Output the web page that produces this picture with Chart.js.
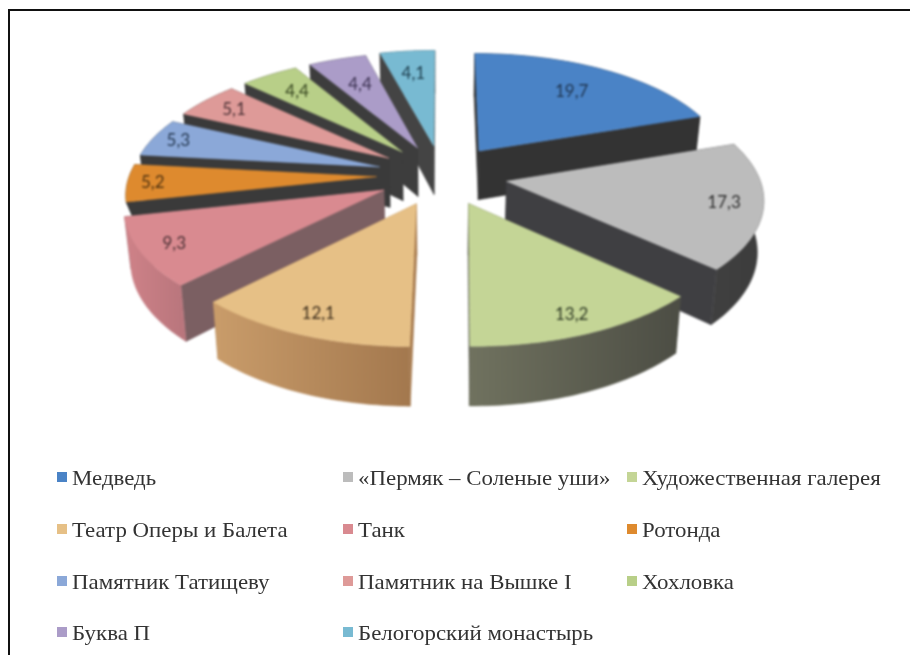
<!DOCTYPE html>
<html>
<head>
<meta charset="utf-8">
<script src="https://cdn.jsdelivr.net/npm/chart.js@4"></script>
<style>
  html, body { margin: 0; padding: 0; background: #fff; }
  #wrap { position: relative; width: 910px; height: 655px; overflow: hidden; }
  #frame { position: absolute; left: 8px; top: 9px; width: 920px; height: 670px; border: 2px solid #111; box-sizing: border-box; }
  #pie { position: absolute; left: 0; top: 0; filter: blur(0.9px); }
  .leg { position: absolute; font: 21px "Liberation Serif", serif; transform: scaleX(1.09); transform-origin: left center; color: #333; white-space: nowrap; line-height: 22px; filter: blur(0.5px); }
  .sq { position: absolute; width: 10px; height: 10px; filter: blur(0.7px); }
</style>
</head>
<body>
<div id="wrap">
  <canvas id="pie" width="910" height="655"></canvas>
  <div id="frame"></div>
</div>
<script>
// данные
var categories = ['Медведь', '«Пермяк – Соленые уши»', 'Художественная галерея', 'Театр Оперы и Балета', 'Танк', 'Ротонда',
  'Памятник Татищеву', 'Памятник на Вышке I', 'Хохловка', 'Буква П', 'Белогорский монастырь'];
var values = [19.7, 17.3, 13.2, 12.1, 9.3, 5.2, 5.3, 5.1, 4.4, 4.4, 4.1];
var valueLabels = ['19,7', '17,3', '13,2', '12,1', '9,3', '5,2', '5,3', '5,1', '4,4', '4,4', '4,1'];

// цвета
var topColors = ['#4a83c6', '#bcbcbc', '#c4d596', '#e6c086', '#d98a90', '#de8a2e', '#8ba8d8', '#de9a98', '#b8cf88', '#ab9cc8', '#78bad2'];
var radialColors = ['#333333', '#3f3f42', '#55574b', '#a87c50', '#7b5f62', '#3a3a3a', '#3a3a3a', '#3a3a3a', '#3d3d3d', '#3d3d3d', '#444444'];
var wallLeft = ['#333333', '#404040', '#70725f', '#c99c6a', '#cf8288', '#3a3a3a', '#3a3a3a', '#3a3a3a', '#3d3d3d', '#3d3d3d', '#444444'];
var wallRight = ['#333333', '#3c3c3c', '#4c4d44', '#a3784e', '#b8757c', '#3a3a3a', '#3a3a3a', '#3a3a3a', '#3d3d3d', '#3d3d3d', '#444444'];
var labelColors = ['#1f3550', '#2c2c2c', '#2e3a24', '#3f2f1c', '#4a3034', '#4f3210', '#24374f', '#4a3034', '#36451f', '#3a3050', '#1f4050'];
var labelReach = [0.72, 0.85, 0.87, 0.86, 0.87, 0.88, 0.87, 0.82, 0.76, 0.68, 0.74];
var sliceReach = [1, 1, 1, 1, 1, 0.98, 0.98, 0.98, 0.98, 0.98, 0.99];
var sliceDepth = [50, 50, 50, 50, 50, 14, 50, 50, 50, 50, 50];

// раскладка легенды
var legendCols = [57, 343, 627];
var legendRows = [478, 530, 582, 633];

// перспектива
var CX = 442, CY = 175, RX = 252, RY = 116, PERSP = 0.13, EXPLODE = 0.26, BASE = 0.98;

function project(u, v, depth) {
  var w = 1 - PERSP * v;
  var x = RX * u / w, y = RY * v / w;
  if (depth) return { x: CX + x * BASE, y: CY + y + depth / w, v: v };
  return { x: CX + x, y: CY + y, v: v };
}

// точка сектора: a - угол от верха по часовой, r - доля радиуса
function slicePoint(mid, a, r, depth) {
  return project(EXPLODE * Math.sin(mid) + r * Math.sin(a), -EXPLODE * Math.cos(mid) - r * Math.cos(a), depth);
}

function fillPoly(ctx, pts, color) {
  ctx.beginPath();
  pts.forEach(function(p, i) { if (i) ctx.lineTo(p.x, p.y); else ctx.moveTo(p.x, p.y); });
  ctx.closePath();
  ctx.fillStyle = color;
  ctx.fill();
  ctx.strokeStyle = color;
  ctx.lineWidth = 0.5;
  ctx.stroke();
}

function meanV(pts) {
  return pts.reduce(function(s, p) { return s + p.v; }, 0) / pts.length;
}

function drawSlice(ctx, arc, i) {
  var a0 = arc.startAngle + Math.PI / 2, a1 = arc.endAngle + Math.PI / 2, mid = (a0 + a1) / 2;
  var top = [], low = [], n = 40;
  for (var k = 0; k <= n; k++) {
    var a = a0 + (a1 - a0) * k / n;
    top.push(slicePoint(mid, a, sliceReach[i], 0));
    low.push(slicePoint(mid, a, sliceReach[i], sliceDepth[i]));
  }
  var apexTop = slicePoint(mid, a0, 0, 0), apexLow = slicePoint(mid, a0, 0, sliceDepth[i]);

  var outer = top.concat(low.slice().reverse());
  var xs = outer.map(function(p) { return p.x; });
  var grad = ctx.createLinearGradient(Math.min.apply(null, xs), 0, Math.max.apply(null, xs), 0);
  grad.addColorStop(0, wallLeft[i]);
  grad.addColorStop(1, wallRight[i]);

  var walls = [
    { pts: [apexTop, top[0], low[0], apexLow], color: radialColors[i] },
    { pts: [apexTop, top[n], low[n], apexLow], color: radialColors[i] },
    { pts: outer, color: grad }
  ];
  walls.sort(function(p, q) { return meanV(p.pts) - meanV(q.pts); });
  walls.forEach(function(w) { fillPoly(ctx, w.pts, w.color); });
  fillPoly(ctx, [apexTop].concat(top), topColors[i]);
}

// стандартная отрисовка секторов заменена наклонной: углы берутся из элементов Chart.js
var tiltedPie = {
  id: 'tiltedPie',
  beforeDatasetDraw: function(chart, args) {
    var ctx = chart.ctx, arcs = args.meta.data;
    var order = arcs.map(function(arc, i) { return i; });
    function depthOf(i) {
      return -Math.cos((arcs[i].startAngle + arcs[i].endAngle) / 2 + Math.PI / 2);
    }
    order.sort(function(p, q) { return depthOf(p) - depthOf(q); });
    ctx.save();
    order.forEach(function(i) { drawSlice(ctx, arcs[i], i); });

    ctx.font = '17px Lato, sans-serif';
    ctx.textAlign = 'center';
    ctx.textBaseline = 'middle';
    arcs.forEach(function(arc, i) {
      var mid = (arc.startAngle + arc.endAngle) / 2 + Math.PI / 2;
      var p = slicePoint(mid, mid, labelReach[i], 0);
      ctx.fillStyle = labelColors[i];
      ctx.fillText(valueLabels[i], p.x, p.y);
    });
    ctx.restore();
    return false;
  }
};

new Chart(document.getElementById('pie').getContext('2d'), {
  type: 'pie',
  data: {
    labels: categories,
    datasets: [{ data: values, backgroundColor: topColors, borderWidth: 0 }]
  },
  options: {
    responsive: false,
    animation: false,
    plugins: { legend: { display: false }, tooltip: { enabled: false } }
  },
  plugins: [tiltedPie]
});

// легенда
var wrap = document.getElementById('wrap');
categories.forEach(function(name, i) {
  var col = i % 3, row = Math.floor(i / 3);
  var sq = document.createElement('div');
  sq.className = 'sq';
  sq.style.left = legendCols[col] + 'px';
  sq.style.top = (legendRows[row] - 6) + 'px';
  sq.style.background = topColors[i];
  wrap.appendChild(sq);
  var t = document.createElement('div');
  t.className = 'leg';
  t.style.left = (legendCols[col] + 15) + 'px';
  t.style.top = (legendRows[row] - 11) + 'px';
  t.textContent = name;
  wrap.appendChild(t);
});
</script>
</body>
</html>
